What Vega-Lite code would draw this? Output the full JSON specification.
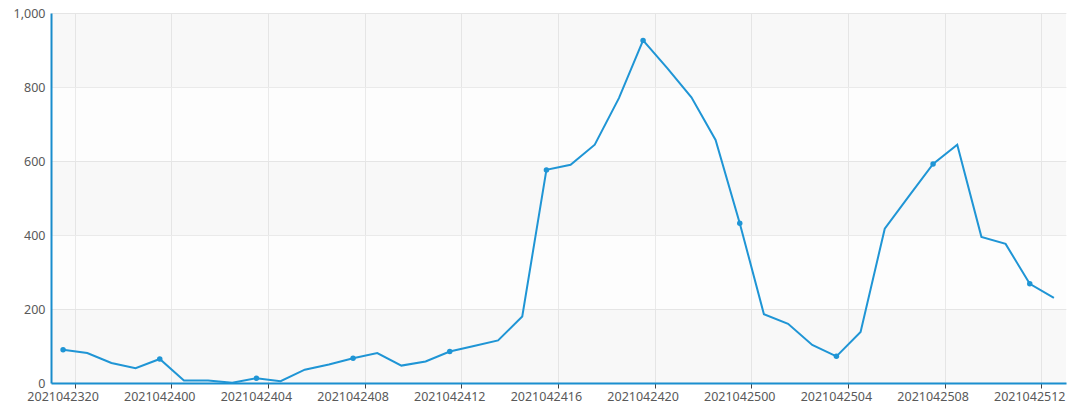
{
  "$schema": "https://vega.github.io/schema/vega-lite/v6.json",
  "width": 1015,
  "height": 370,
  "autosize": {"type": "none"},
  "padding": {"left": 51, "top": 13, "right": 14, "bottom": 29},
  "background": "#ffffff",
  "config": {
    "view": {"stroke": null},
    "font": "Noto Sans",
    "axis": {"labelFont": "Noto Sans", "labelFontSize": 12.5, "labelColor": "#595959"}
  },
  "datasets": {
    "series": [
      {"t": "2021042320", "v": 90},
      {"t": "2021042321", "v": 81},
      {"t": "2021042322", "v": 54},
      {"t": "2021042323", "v": 40},
      {"t": "2021042400", "v": 65},
      {"t": "2021042401", "v": 7},
      {"t": "2021042402", "v": 7},
      {"t": "2021042403", "v": 1},
      {"t": "2021042404", "v": 13},
      {"t": "2021042405", "v": 5},
      {"t": "2021042406", "v": 36},
      {"t": "2021042407", "v": 50},
      {"t": "2021042408", "v": 67},
      {"t": "2021042409", "v": 81},
      {"t": "2021042410", "v": 47},
      {"t": "2021042411", "v": 58},
      {"t": "2021042412", "v": 85},
      {"t": "2021042413", "v": 100},
      {"t": "2021042414", "v": 115},
      {"t": "2021042415", "v": 180},
      {"t": "2021042416", "v": 576},
      {"t": "2021042417", "v": 590},
      {"t": "2021042418", "v": 644},
      {"t": "2021042419", "v": 770},
      {"t": "2021042420", "v": 926},
      {"t": "2021042421", "v": 851},
      {"t": "2021042422", "v": 772},
      {"t": "2021042423", "v": 657},
      {"t": "2021042500", "v": 432},
      {"t": "2021042501", "v": 186},
      {"t": "2021042502", "v": 160},
      {"t": "2021042503", "v": 103},
      {"t": "2021042504", "v": 72},
      {"t": "2021042505", "v": 138},
      {"t": "2021042506", "v": 417},
      {"t": "2021042507", "v": 505},
      {"t": "2021042508", "v": 592},
      {"t": "2021042509", "v": 644},
      {"t": "2021042510", "v": 395},
      {"t": "2021042511", "v": 376},
      {"t": "2021042512", "v": 268},
      {"t": "2021042513", "v": 230}
    ],
    "bands": [
      {"lo": 0, "hi": 200, "shade": "a"},
      {"lo": 200, "hi": 400, "shade": "b"},
      {"lo": 400, "hi": 600, "shade": "a"},
      {"lo": 600, "hi": 800, "shade": "b"},
      {"lo": 800, "hi": 1000, "shade": "a"}
    ]
  },
  "layer": [
    {
      "data": {"name": "bands"},
      "mark": {"type": "rect", "color": "#000000"},
      "encoding": {
        "y": {"field": "lo", "type": "quantitative", "scale": {"domain": [0, 1000]}},
        "y2": {"field": "hi"},
        "opacity": {"field": "shade", "type": "nominal", "scale": {"domain": ["a", "b"], "range": [0.028, 0.008]}, "legend": null}
      }
    },
    {
      "data": {"name": "series"},
      "layer": [
        {
          "mark": {"type": "line", "color": "#1f95d5", "strokeWidth": 2},
          "encoding": {
            "x": {
              "field": "t", "type": "ordinal", "sort": null, "bandPosition": 0.5,
              "scale": {"type": "band", "paddingInner": 0, "paddingOuter": 0},
              "title": null,
              "axis": {
                "values": ["2021042320", "2021042400", "2021042404", "2021042408", "2021042412", "2021042416", "2021042420", "2021042500", "2021042504", "2021042508", "2021042512"],
                "bandPosition": 1,
                "labelOffset": 0,
                "labelAngle": 0,
                "labelPadding": 2,
                "grid": true,
                "gridColor": "#ececec",
                "gridWidth": 1,
                "ticks": true,
                "tickSize": 5,
                "tickColor": "#444444",
                "domainColor": "#1a8fd0",
                "domainWidth": 2
              }
            },
            "y": {
              "field": "v", "type": "quantitative",
              "scale": {"domain": [0, 1000], "nice": false},
              "title": null,
              "axis": {
                "values": [0, 200, 400, 600, 800, 1000],
                "format": ",.0f",
                "ticks": false,
                "labelPadding": 6,
                "grid": true,
                "gridColor": "#ececec",
                "domainColor": "#1a8fd0",
                "domainWidth": 2
              }
            }
          }
        },
        {
          "transform": [
            {"filter": {"field": "t", "oneOf": ["2021042320", "2021042400", "2021042404", "2021042408", "2021042412", "2021042416", "2021042420", "2021042500", "2021042504", "2021042508", "2021042512"]}}
          ],
          "mark": {"type": "point", "filled": true, "color": "#1f95d5", "size": 30, "opacity": 1},
          "encoding": {
            "x": {"field": "t", "type": "ordinal", "sort": null, "bandPosition": 0.5},
            "y": {"field": "v", "type": "quantitative"}
          }
        }
      ]
    }
  ]
}
